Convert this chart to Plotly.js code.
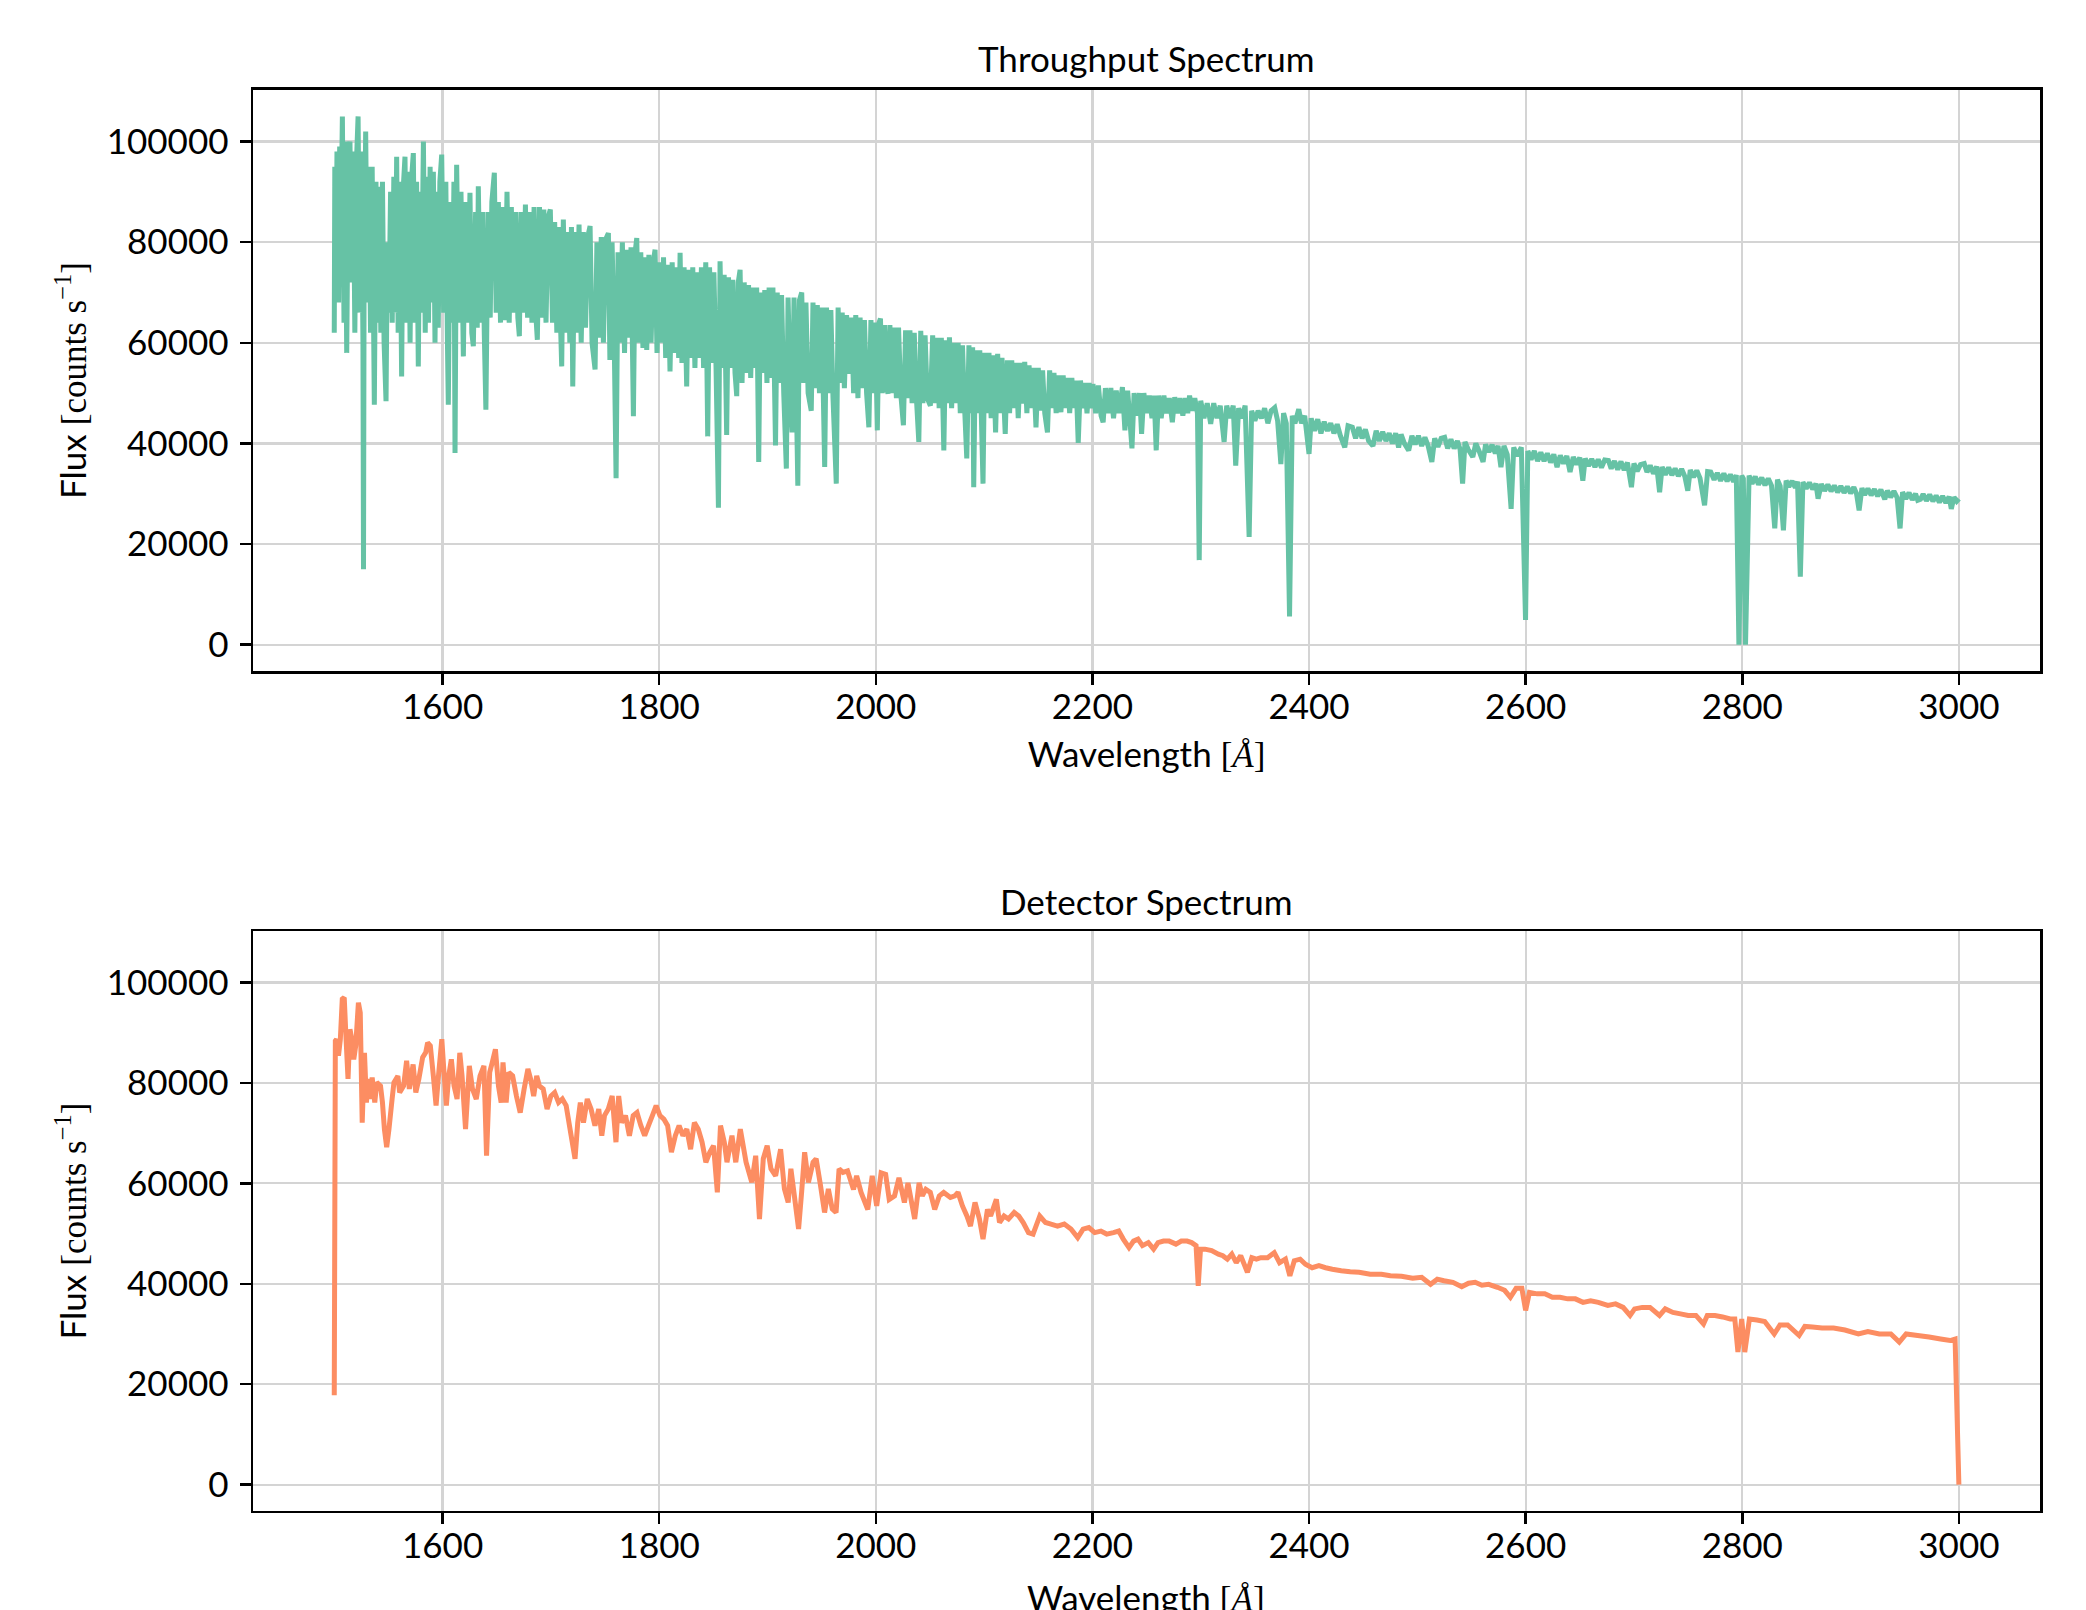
<!DOCTYPE html>
<html><head><meta charset="utf-8">
<script src="https://cdn.plot.ly/plotly-3.0.1.min.js"></script>
<style>html,body{margin:0;padding:0;background:#fff}#chart{width:2086px;height:1610px}</style>
</head><body><div id="chart"></div>
<script>
// ---- Throughput spectrum (wavelength in Å, flux in counts/s) ----
const throughputWavelength = [
1500,1500.5,1501.5,1502.5,1504,1505,1506,1507.5,1509,1510,
1511.5,1513,1514.5,1516,1517.5,1519,1520.5,1522,1523.5,1525,
1526.5,1527,1527.5,1529,1530.5,1532,1533.5,1535,1537,1538.5,
1540,1541.5,1543,1544.5,1546,1547.8,1549,1550.5,1552,1553.5,
1555,1556.5,1557.6,1559,1560.5,1562.2,1563.5,1565.3,1567,1568.5,
1570,1571.5,1573,1574.5,1576,1577.6,1579,1580.5,1582.3,1584,
1585.5,1587,1588.5,1590,1591.5,1593,1594.5,1596,1597.5,1599.2,
1601,1603,1604.5,1605.3,1607,1609,1610.5,1611.5,1613,1615,
1617,1619.2,1621,1623,1625.3,1627,1628.4,1630.5,1632,1633,
1635,1637,1638.5,1640,1642,1644,1645.5,1647.8,1649.5,1651.5,
1653.5,1655.5,1657.5,1659.5,1661.5,1663.5,1665.5,1667.5,1669.5,1670.9,
1672.5,1674.5,1676.5,1678.5,1680.5,1682.5,1684.5,1686,1687.5,1689.5,
1691.5,1693.5,1695.5,1697.5,1699.5,1701.5,1703.5,1705.5,1707.5,1709,
1710,1711.5,1713.5,1715.5,1717.5,1719,1720.2,1722,1724,1726,
1728,1730,1732,1734,1736.2,1738,1740.8,1742.5,1744.5,1746.5,
1748.5,1750.5,1753.1,1754.5,1756.5,1758.5,1760.2,1762,1764,1766,
1768,1770,1772,1774,1776.2,1777.8,1779.3,1781,1783,1785,
1787,1788.5,1790.5,1792.5,1794.5,1796.2,1798,1800,1802,1804,
1806,1808,1810,1812,1814,1816,1818,1819.3,1821,1823,
1825.4,1827,1829,1831,1833,1835,1837,1839,1841,1843,
1844.8,1846.5,1848.5,1850.5,1852.5,1854.7,1856.2,1858,1860,1862.3,
1864,1866,1868,1870,1871.6,1873,1874.7,1876.5,1878.5,1880.5,
1882.5,1884.5,1886.5,1888.5,1890,1891.9,1893.5,1895.5,1897.5,1899.5,
1901.5,1903.5,1905,1907.4,1909,1911,1913,1915,1917.4,1919,
1921,1922.7,1924.5,1926.5,1928,1929.5,1931.6,1933.5,1935.5,1937.5,
1940.4,1942,1944,1946,1948,1950,1952.8,1954.5,1956.5,1958.5,
1960.5,1963.5,1965.2,1967,1969,1971,1973,1975.9,1977.5,1979.5,
1981.5,1983.5,1985.5,1987.5,1989.5,1991.5,1993.6,1995.5,1997.5,1999.5,
2001.4,2003,2004.3,2006,2008,2010,2011.3,2013,2015,2017,
2019,2021,2023,2025.5,2027.5,2029.5,2031.5,2033.5,2035.5,2037.5,
2039.7,2041.5,2043.5,2045.5,2047.5,2050.4,2052.5,2054.5,2056.5,2058.5,
2060.5,2062.8,2064.5,2066.5,2068,2070,2072,2074,2076,2078,
2080,2082,2084,2086,2088,2089.4,2090.4,2092,2094,2096,
2097.5,2099,2100.5,2102.5,2104.5,2106.5,2108.5,2110.6,2112.5,2114.5,
2116.5,2119.5,2121.5,2123.5,2125.5,2127.5,2129.5,2131.5,2133.5,2135.5,
2137.5,2139.5,2141.5,2143.5,2145.5,2147.9,2150,2152,2154,2156,
2158.5,2160.5,2162.5,2164.5,2166.5,2168.5,2170.9,2173,2175,2177,
2179,2181,2183,2184.9,2186.9,2189,2191,2193,2195,2197,
2199,2200.5,2203,2205.5,2208,2209.9,2212,2214.5,2217,2219.5,
2222,2224.5,2227.7,2230,2232.5,2234.5,2236.5,2238.5,2241,2243.5,
2245.4,2247.5,2250,2252.5,2255,2257,2258.9,2261,2263.5,2266,
2268.5,2271,2273.8,2276,2278.5,2281,2283.5,2286,2288,2289.7,
2292,2294.5,2297,2298.6,2300,2303,2306,2309.2,2312,2315,
2318,2321.6,2324,2327,2330,2332.3,2335,2338,2341,2344.7,
2347,2350,2353,2356,2359,2362,2365,2368.3,2371,2374,
2376.5,2379,2382,2384.5,2387,2390.5,2393,2396,2400,2402,
2405,2408,2411,2414,2417,2420,2423,2426,2429,2433,
2436,2440,2443,2446,2449,2452,2455,2459,2462,2465,
2468,2471,2474,2477,2480,2482.7,2485,2488,2492,2495,
2498,2501,2504,2507,2510,2513.4,2516,2519,2522,2525.2,
2528,2531,2534,2537,2539.5,2541.8,2544,2547,2551.2,2554,
2557,2560.7,2563,2566,2569,2572,2574.5,2577.2,2580,2583,
2586.6,2589,2592,2596,2599.9,2602,2605,2608,2611,2614,
2617,2620,2623,2626,2629,2632,2635,2638,2641,2644,
2647,2650,2652.8,2655,2658,2661,2664,2667,2670,2673,
2676.4,2679,2682,2685,2688,2691,2694,2697.7,2700,2703,
2706,2709.5,2712,2715,2718,2721,2723.7,2726,2729,2732,
2735,2738,2741,2744,2747,2749.7,2752,2755,2758,2761,
2765.2,2768,2770.9,2774,2777,2780,2783,2786,2789,2792,
2794.5,2796.9,2799.5,2801,2803,2806.3,2809,2812,2815,2818,
2821,2824,2827,2830,2832.5,2835,2838,2840.5,2843,2846,
2849,2851,2853.6,2856,2859,2862,2865,2868,2870,2873,
2876,2879,2882,2885,2888,2891,2894,2897,2900,2903,
2905.5,2907.9,2910.5,2913,2916,2919,2922,2925,2928,2931.6,
2934,2937,2940,2943,2945.7,2948,2951,2954,2957,2960,
2962,2964.6,2967,2970,2973,2976,2979,2982,2985,2988,
2991,2993,2995.5,2998,3000
];
const throughputFlux = [
62000,95000,70000,98000,68000,99000,80000,105000,64000,100000,
58000,96000,100000,72000,98000,62000,96000,105000,66000,98000,
60000,15000,70000,102000,68000,95000,62000,95000,47700,92000,
64000,91000,62000,92000,60000,48400,80000,66000,90000,64000,
93000,66000,97000,62000,92000,53300,90000,97000,64000,94000,
60000,93000,97700,64000,92000,55300,90000,66000,100000,62000,
93000,64000,95000,68000,94000,60000,90000,63000,92000,97400,
66000,92000,60000,47700,88000,64000,92000,38100,95400,64000,
90000,57300,88000,64000,89800,62000,59300,86000,63000,91100,
64000,86000,62000,46700,86000,65000,88000,93800,66000,88000,
64000,87000,64500,90000,64000,87000,66000,86000,65000,61300,
86000,66000,87500,65000,86000,64000,87000,66000,60600,87000,
65000,86500,64000,85000,86500,64000,84000,62000,83000,63000,
55300,84500,62000,82000,60000,83000,51300,82000,62000,83500,
60000,82000,63000,81000,83200,60000,54700,80000,61000,81000,
60000,80500,81800,56600,80000,60000,33100,78000,60000,80000,
58000,78500,61000,79000,45400,78000,80800,60000,78000,59000,
77000,58600,77500,60000,76000,78500,58000,76000,60000,77000,
57000,75500,54300,76000,58000,75000,57000,77900,56000,75000,
51300,74500,57000,75000,55000,74000,57000,75000,55000,76000,
41400,75000,56000,74000,55000,27200,76200,55000,73500,41700,
73000,55000,72500,54000,49400,72000,74500,52000,72000,54000,
71500,53000,71000,55000,71000,36300,70000,54000,70500,52000,
71000,53000,71000,39600,70000,52000,69500,50000,35000,69000,
50000,42200,69000,51000,31600,68500,70000,52000,68000,50000,
46500,68000,51000,67500,50000,67000,35300,67000,50000,66500,
49000,32000,67000,52000,66000,51000,65500,53800,65000,50000,
65500,49000,65000,51000,64500,50000,43200,64500,50000,64000,
42600,64000,64800,50000,63500,51000,49900,63500,50000,63000,
49000,63000,50000,43600,62500,49000,62500,48000,62000,49000,
40300,62400,48000,61500,49000,47500,61500,48000,61000,47000,
61000,38600,60500,48000,61100,47000,60000,48000,60000,46000,
59500,47000,37000,59500,46000,59100,31300,58500,46000,58500,
45000,32000,58000,46000,58000,45000,57500,42200,57800,46000,
57000,41900,56500,46000,56500,47000,56000,45000,56000,47900,
56200,46000,55500,47000,55000,43200,55000,46500,54500,46000,
42200,54500,47000,54000,46000,53500,46200,53500,47000,53000,
46000,53000,47000,52500,40100,52500,47000,52000,46000,52000,
47000,51800,46000,51500,45500,44200,51000,46000,51000,45000,
50500,46000,51200,42600,50500,45000,39000,50000,45500,50000,
41900,50000,46000,49500,45000,49500,38600,49500,45000,49500,
46000,49000,44200,49200,46000,49000,45500,49000,46000,49500,
46500,49000,46000,16800,48500,45000,48000,43900,48000,45000,
47500,40300,47500,45000,47500,35600,47000,45000,47500,21400,
46500,44500,46500,45000,47000,44000,46500,47100,44500,35900,
46000,44000,5600,45500,44000,46800,44000,45500,37900,45000,
42500,44800,42000,44300,42500,44000,42000,43800,41500,39200,
43500,43200,41000,43200,41000,42800,40500,39500,42500,40500,
42300,40500,42000,40000,42000,39200,41800,40000,38600,41500,
39800,41500,39500,41200,39500,36300,41000,39300,41000,41200,
39000,40800,39000,40500,38800,32000,40300,38800,37300,40000,
38500,36300,39800,38300,39700,38000,39500,35300,39500,37800,
27000,39200,37500,39200,4900,38500,36800,38500,36500,38200,
36500,38000,36200,37800,35300,37600,36000,37500,34300,37300,
35800,37200,32600,37000,35500,36900,35300,36800,35200,36700,
36600,35000,36500,34800,36400,34700,36200,31300,36000,34500,
35800,36000,34300,35600,34000,35400,30300,35300,33800,35200,
33700,35000,33500,34900,33400,30600,34700,33300,34600,33100,
27700,34400,34300,32800,34100,32600,34000,32500,33800,32400,
33700,0,33600,33000,0,33600,32000,33400,31800,33200,
31700,33000,31600,23100,32800,31500,22700,32600,31400,32500,
31200,32400,13500,32300,31000,32200,30900,32000,29000,31900,
30600,31800,30500,31600,30300,31500,30200,31400,30100,31300,
30000,26700,31100,29800,31000,29700,30900,29500,30800,28900,
30600,29300,30500,29200,23100,30300,29000,30200,28800,30000,
28700,28900,29900,28600,29800,28500,29600,28300,29500,28200,
29400,27000,29300,28500,29000
];

// ---- Detector spectrum ----
const detectorWavelength = [
1500,1501,1502.1,1503.9,1505.6,1507.4,1509.2,1510.9,1512.7,1514.5,
1516.2,1518,1519.8,1522.3,1524,1525.8,1527.9,1529.7,1531.1,1532.9,
1535,1537.4,1539.2,1542.7,1544.5,1546.3,1548.4,1550.5,1553.4,1555.1,
1558.7,1560.4,1564,1566.8,1569.3,1572.8,1575.3,1578.1,1581.6,1584.5,
1586.2,1588.7,1591.5,1594,1596.5,1599.3,1601.1,1603.5,1605.7,1608.1,
1610.6,1613.4,1615.9,1618,1621.2,1624.7,1627.6,1631.1,1634.6,1638.2,
1640.6,1643.5,1645.9,1648.8,1651.6,1654.1,1655.8,1658.7,1661.1,1664.7,
1668.2,1671.7,1675.3,1678.8,1681.3,1684.1,1686.9,1689.4,1692.9,1696.5,
1700,1703.5,1707.1,1710.6,1714.1,1718.7,1722.3,1724.8,1727.2,1730.1,
1733.6,1737.1,1740.7,1744.2,1747,1749.5,1753,1756.6,1760.1,1762.6,
1765.4,1768.9,1772.5,1776,1779.5,1783.1,1786.6,1790.1,1793.7,1797.2,
1800.7,1804.3,1807.8,1811.3,1814.9,1818.4,1821.9,1825.5,1829,1832.5,
1836.1,1839.6,1843.1,1846.7,1850.2,1853.7,1856.6,1860.1,1862.6,1867.2,
1870.7,1874.9,1880.2,1885.5,1889.1,1892.6,1896.1,1899.7,1903.2,1907.5,
1912.1,1915.6,1919.1,1921.6,1924.4,1928.7,1931.5,1934.3,1937.8,1942.1,
1944.9,1948.5,1952.7,1956.2,1959.8,1963.3,1966.1,1969.7,1973.9,1979.4,
1982.3,1986.4,1992.6,1996.7,2000.8,2004.9,2009.1,2012.4,2017.3,2021.4,
2026.4,2029.7,2035.9,2040,2042.9,2046.2,2050.3,2054.4,2058.6,2062.7,
2068.9,2073,2075.9,2080,2084.1,2087.4,2091.6,2095.7,2099,2103.1,
2106,2111.3,2114.2,2118.4,2122.5,2127.8,2132,2136.1,2141,2145.2,
2151.4,2156.7,2161.7,2167.8,2174,2180.2,2186.4,2191.4,2196.7,2202.1,
2207.8,2213.2,2219.4,2224.3,2228.5,2233.8,2238,2242.1,2246.2,2251.6,
2256.5,2260.6,2265.6,2270.9,2277.1,2282.1,2287.4,2291.6,2295.7,2297.7,
2299.8,2303.9,2310.1,2316.3,2320.4,2324.6,2328.7,2332.8,2336.9,2343.1,
2347.2,2351.4,2355.5,2361.7,2367.9,2372.8,2378.2,2382.3,2386.4,2391.8,
2396.7,2402.9,2409.1,2415.3,2421.5,2429.7,2438,2446.2,2456.5,2466.8,
2475.1,2485.4,2495.7,2504,2512.2,2518.4,2524.6,2532.8,2541,2547.3,
2553.4,2559.6,2565.8,2574,2580.6,2585.9,2591.2,2596.5,2600,2603.5,
2610.6,2617.7,2624.7,2631.8,2638.8,2645.9,2653,2660,2667.1,2675.9,
2683,2690,2696.4,2700.6,2707.7,2714.8,2723.6,2728.9,2736,2743,
2750.1,2757.2,2764.2,2767.7,2774.8,2781.8,2788.9,2793.1,2796,2799.5,
2802.3,2806.6,2813.6,2820.7,2829.5,2834.8,2841.9,2852.5,2857.8,2864.8,
2873.7,2884.3,2894.8,2907.2,2916,2926.6,2937.2,2945,2951.3,2961.9,
2972.5,2983.1,2991.9,2996.5,3000
];
const detectorFlux = [
17800,88400,88700,85400,88700,96700,97000,88700,80800,90700,
88700,84700,87400,96000,94000,72100,86000,76100,80800,76800,
81100,76100,80100,79400,76100,70800,67200,70800,76800,80100,
81400,78100,79400,84400,78800,83700,78100,80800,85100,86100,
88000,87400,81400,75500,82100,88700,82800,75500,81400,84700,
79400,76800,86000,81400,70800,83400,78800,76800,81400,83400,
65500,82100,84100,86700,79400,76100,84100,76100,82100,81400,
77400,74100,78800,82800,80800,77400,81400,79400,78800,74800,
77400,78100,76100,76800,75500,69500,64900,72100,76100,72100,
76800,74800,71500,74800,69500,73500,74800,77400,68200,77400,
72100,73500,69500,73500,74100,71500,69500,71500,73500,75500,
73500,72800,71500,66200,69500,71500,69500,70800,66800,72100,
70800,68200,64200,66200,67500,58200,71500,68200,64200,69500,
64200,70800,64200,60200,65500,52900,64900,67500,62900,61500,
66800,58900,56200,62900,58200,50900,58200,66200,60200,64200,
64900,60200,54200,58900,54900,54200,62900,62200,62500,58800,
61500,58200,54800,61500,55500,62100,61800,56800,57500,61100,
56200,60100,52900,60100,57500,58800,58200,54800,57500,58200,
57200,57500,58200,55500,53500,51500,56200,52900,48900,54800,
53500,56800,52200,53500,52900,54200,53500,52200,50200,49900,
53500,52200,51900,51500,51900,50900,49200,50900,51200,50200,
50500,49900,50200,50500,48900,47200,48500,48900,47600,48200,
46900,48200,48500,48500,47900,48500,48500,48200,47600,39600,
46900,46900,46600,45900,45600,44900,45900,44200,45600,42300,
45200,44900,45200,45200,46200,44200,44900,41600,44600,44900,
43900,43200,43600,43200,42900,42600,42400,42300,41900,41900,
41600,41500,41100,41300,39900,40900,40600,40300,39400,40100,
40300,39700,39900,39300,38700,37300,39100,39100,34700,38300,
38000,38000,37300,37300,37000,37000,36300,36600,36300,35700,
36000,35300,33700,35000,35300,35300,33700,35000,34300,34000,
33700,33700,32000,33700,33700,33400,33000,33000,26400,33000,
26400,33000,32800,32500,30000,31800,31800,29700,31500,31400,
31200,31200,30800,30000,30500,30000,30000,28400,30000,29700,
29400,29000,28700,29000,0
];

const xTickValues = [1600, 1800, 2000, 2200, 2400, 2600, 2800, 3000];
const yTickValues = [0, 20000, 40000, 60000, 80000, 100000];
const panelTitles = ['Throughput Spectrum', 'Detector Spectrum'];
const xTitle = 'Wavelength <span style="font-family:Liberation Serif">[<i>Å</i>]</span>';
const yTitle = 'Flux <span style="font-family:Liberation Serif">[counts s<sup>−1</sup>]</span>';

const FONT = 'Lato, "DejaVu Sans", sans-serif';
const FS = 35;

function xAxis(anchor, withTitle) {
  const ax = {
    anchor: anchor, domain: [0.1213, 0.9780], range: [1425, 3075],
    tickvals: xTickValues, ticks: 'outside', ticklen: 11, tickwidth: 2.5, tickcolor: '#000',
    ticklabelstandoff: -8,
    showline: true, linecolor: '#000', linewidth: 2.5, mirror: true,
    showgrid: true, gridcolor: '#d4d4d4', gridwidth: 2.2, zeroline: false,
    tickfont: {family: FONT, size: FS, color: '#000'}
  };
  if (withTitle) ax.title = {text: xTitle, font: {family: FONT, size: FS, color: '#000'}, standoff: 18};
  return ax;
}
function yAxis(anchor, domain) {
  return {
    anchor: anchor, domain: domain, range: [-5250, 110250],
    tickvals: yTickValues, tickformat: 'd', ticks: 'outside', ticklen: 11, tickwidth: 2.5, tickcolor: '#000',
    ticklabelstandoff: 4,
    showline: true, linecolor: '#000', linewidth: 2.5, mirror: true,
    showgrid: true, gridcolor: '#d4d4d4', gridwidth: 2.2, zeroline: false,
    tickfont: {family: FONT, size: FS, color: '#000'},
    title: {text: yTitle, font: {family: FONT, size: FS, color: '#000'}, standoff: 10}
  };
}

const data = [
  {x: throughputWavelength, y: throughputFlux, xaxis: 'x', yaxis: 'y', type: 'scatter', mode: 'lines',
   line: {color: '#66c2a5', width: 5, simplify: false}, hoverinfo: 'skip'},
  {x: detectorWavelength, y: detectorFlux, xaxis: 'x2', yaxis: 'y2', type: 'scatter', mode: 'lines',
   line: {color: '#fc8d62', width: 5, simplify: false}, hoverinfo: 'skip'}
];

const annFont = {family: FONT, size: FS, color: '#000'};
const layout = {
  width: 2086, height: 1610,
  margin: {l: 0, r: 0, t: 0, b: 0, pad: 0},
  paper_bgcolor: '#fff', plot_bgcolor: '#fff',
  showlegend: false,
  font: {family: FONT, size: FS, color: '#000'},
  xaxis: xAxis('y', true),
  yaxis: yAxis('x', [0.5832, 0.9441]),
  xaxis2: xAxis('y2', false),
  yaxis2: yAxis('x2', [0.0615, 0.4217]),
  annotations: [
    {text: panelTitles[0], xref: 'paper', yref: 'paper', x: 0.5496, y: 0.9640, xanchor: 'center', yanchor: 'middle', showarrow: false, font: annFont},
    {text: panelTitles[1], xref: 'paper', yref: 'paper', x: 0.5496, y: 0.4404, xanchor: 'center', yanchor: 'middle', showarrow: false, font: annFont},
    {text: xTitle, xref: 'paper', yref: 'paper', x: 0.5496, y: 0.0075, xanchor: 'center', yanchor: 'middle', showarrow: false, font: annFont}
  ]
};

Plotly.newPlot('chart', data, layout, {staticPlot: true, displayModeBar: false});
</script>
</body></html>
